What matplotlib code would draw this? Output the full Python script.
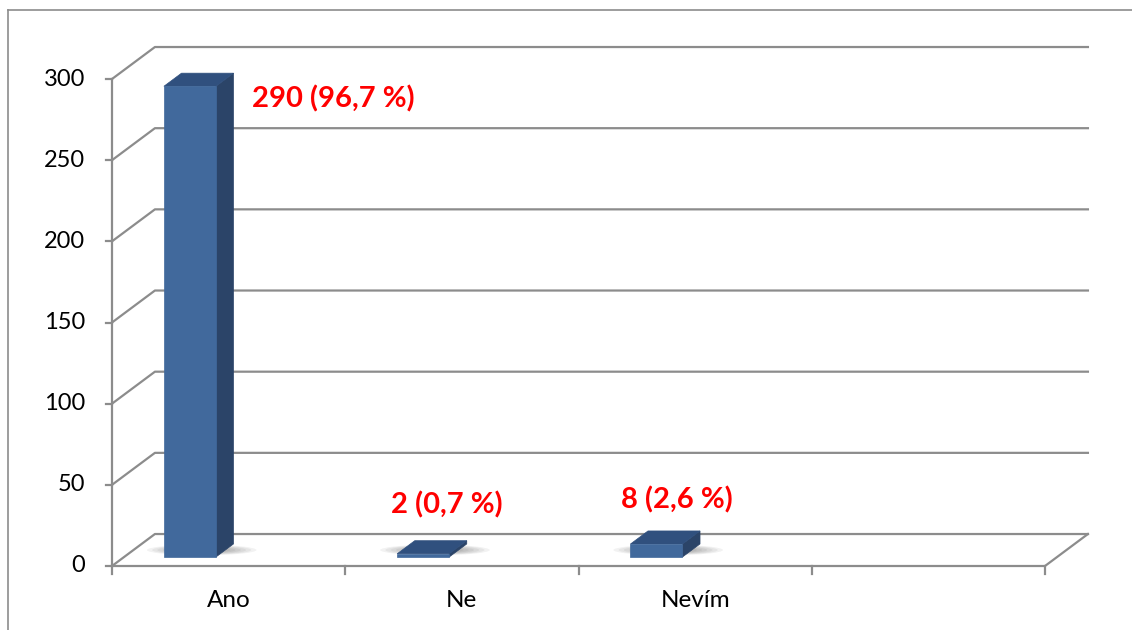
import numpy as np
import matplotlib.pyplot as plt
from matplotlib.patches import Polygon, Ellipse
from matplotlib.lines import Line2D

categories = ['Ano', 'Ne', 'Nevím', '']
counts = [290, 2, 8]
value_labels = ['290 (96,7 %)', '2 (0,7 %)', '8 (2,6 %)']
yticks = [0, 50, 100, 150, 200, 250, 300]

plt.rcParams['font.family'] = ['Lato', 'DejaVu Sans']

# pseudo 3d: back wall offset in data units (x in categories, y in values)
DX, DY = 0.184, 19.7
GRID = '#8c8c8c'
FRONT, SIDE, TOP = '#41699c', '#2b4468', '#30507e'


def proj(x, y, f):
    return (x + DX * f, y + DY * f)


fig = plt.figure(figsize=(11.32, 6.30), dpi=100)
ax = fig.add_axes([112 / 1132, 64 / 630, 933 / 1132, 487 / 630])
ax.set_xlim(0, 4)
ax.set_ylim(0, 300)
ax.axis('off')

ncat = len(categories)

# gridlines: diagonal on the side wall + horizontal on the back wall
for v in yticks:
    bx, by = proj(0, v, 1)
    ax.add_line(Line2D([0, bx, ncat + DX], [v, by, by], color=GRID, lw=1.6,
                       clip_on=False, zorder=1))
    ax.add_line(Line2D([-0.026, 0], [v, v], color=GRID, lw=1.6, clip_on=False, zorder=1))
    ax.text(-0.116, v, str(v), ha='right', va='center', fontsize=17, color='black')

# floor front edge and right edge, left axis
ax.add_line(Line2D([0, ncat, ncat + DX], [0, 0, DY], color=GRID, lw=1.6, clip_on=False, zorder=1))
ax.add_line(Line2D([0, 0], [0, 300], color=GRID, lw=1.6, clip_on=False, zorder=1))
for i in range(ncat + 1):
    ax.add_line(Line2D([i, i], [0, -5], color=GRID, lw=1.6, clip_on=False, zorder=1))
for i, c in enumerate(categories):
    ax.text(i + 0.5, -21, c, ha='center', va='center', fontsize=17.5, color='black')

# bars
f0, f1 = 0.28, 0.69
bw = 0.223
for i, v in enumerate(counts):
    x0 = i + 0.171
    x1 = x0 + bw
    # soft shadow on floor
    cx, cy = proj(x0 + bw / 2 + 0.01, 0, 0.5)
    for k in range(7):
        ax.add_patch(Ellipse((cx, cy), 0.47 - k * 0.045, 6.5 - k * 0.6,
                             color='#000000', alpha=0.05, lw=0, clip_on=False, zorder=2))
    front = [proj(x0, 0, f0), proj(x1, 0, f0), proj(x1, v, f0), proj(x0, v, f0)]
    side = [proj(x1, 0, f0), proj(x1, 0, f1), proj(x1, v, f1), proj(x1, v, f0)]
    top = [proj(x0, v, f0), proj(x1, v, f0), proj(x1, v, f1), proj(x0, v, f1)]
    for pts, col in [(side, SIDE), (top, TOP), (front, FRONT)]:
        ax.add_patch(Polygon(pts, closed=True, facecolor=col, edgecolor=col, lw=0.5,
                             clip_on=False, zorder=3))

# value labels
label_pos = [(0.60, 288, 'left'), (1.436, 37.6, 'center'), (2.422, 40.7, 'center')]
for (lx, ly, ha), txt in zip(label_pos, value_labels):
    ax.text(lx, ly, txt, ha=ha, va='center', fontsize=21, fontweight='bold',
            color='#ff0000', zorder=5)

# chart frame
fig.add_artist(Line2D([8 / 1132, 8 / 1132], [0, 1 - 10 / 630], color='#8c8c8c', lw=1.2))
fig.add_artist(Line2D([8 / 1132, 1], [1 - 10 / 630, 1 - 10 / 630], color='#8c8c8c', lw=1.2))

fig.savefig('out.png', dpi=100)
